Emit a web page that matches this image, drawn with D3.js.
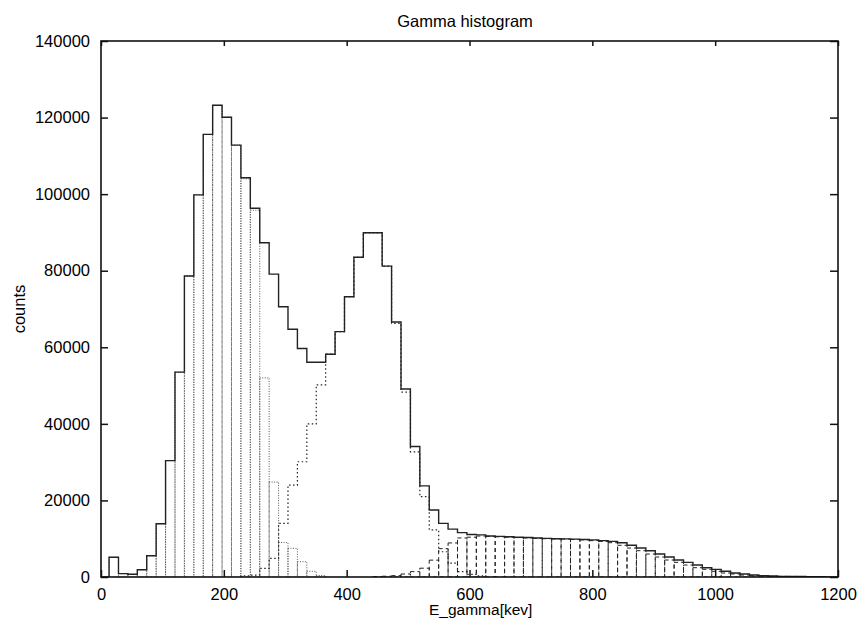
<!DOCTYPE html>
<html>
<head>
  <meta charset="utf-8">
  <title>Gamma histogram</title>
  <style>
    body { margin: 0; background: #fff; }
    text { font-family: "Liberation Sans", Arial, sans-serif; fill: #000; }
  </style>
</head>
<body>
  <div id='chart'></div>
  <script src="https://d3js.org/d3.v7.min.js"></script>
  <script>

    // bins: lower edge of bin k = binStart + k * binWidth (keV)
    let binStart = -2.2;
    let binWidth = 15.333;

    // total counts per bin (solid line)
    let totalCounts = [
      0, 5150, 870, 700, 1900, 5570, 13900, 30400, 53500, 78600,
      99800, 115600, 123200, 120100, 112800, 104300, 96300, 87300, 79100, 70600,
      64700, 59700, 56100, 56100, 58200, 64100, 73200, 83500, 89900, 89900,
      81200, 66600, 49100, 34100, 23800, 17500, 14000, 12500, 11600, 11100,
      11000, 10700, 10600, 10500, 10400, 10300, 10200, 10100, 10000, 9950,
      9900, 9800, 9700, 9500, 9300, 8960, 8280, 7570, 6870, 6000,
      5220, 4440, 3830, 3130, 2430, 2000, 1490, 1040, 780, 520,
      350, 260, 170, 170, 150, 100, 60, 30, 0
    ];

    // first component (fine dots, bars), bins 0..23
    let compA = [
      0, 5150, 870, 700, 1900, 5570, 13900, 30400, 53500, 78600,
      99800, 115600, 123200, 120100, 112800, 104000, 95800, 52000, 24800, 9000,
      7500, 4000, 1500, 400
    ];

    // second component (coarse dots, outline), starting at bin 15
    let compBFirst = 15;
    let compB = [
      300, 500, 2270, 4880, 14000, 24000, 30100, 40000, 50200, 58200,
      64100, 73200, 83500, 89900, 89900, 81200, 66250, 48300, 32700, 21000,
      12300, 6600, 3600, 1400, 700, 300
    ];

    // third component (dashed, bars), starting at bin 29
    let compCFirst = 29;
    let compC = [
      100, 200, 350, 780, 1400, 2300, 4400, 7400, 8900, 10200,
      10400, 10700, 10600, 10500, 10400, 10300, 10200, 10100, 10000, 9950,
      9900, 9800, 9700, 9500, 9300, 8960, 8280, 7570, 6870, 6000,
      5220, 4440, 3830, 3130, 2430, 2000, 1490, 1040, 780, 520,
      350, 260, 170, 170, 150, 100, 60, 30
    ];

    let xTicks = [0, 200, 400, 600, 800, 1000, 1200];
    let yTicks = [0, 20000, 40000, 60000, 80000, 100000, 120000, 140000];

    let svgWidth = 857;
    let svgHeight = 619;
    let margin = {top: 41, right: 19, bottom: 42, left: 101};

    let svg = d3.select('#chart')
      .append('svg')
      .attr('width', svgWidth)
      .attr('height', svgHeight);

    let x = d3.scaleLinear()
      .domain([0, 1200])
      .range([margin.left, svgWidth - margin.right]);

    let y = d3.scaleLinear()
      .domain([0, 140000])
      .range([svgHeight - margin.bottom, margin.top]);

    svg.append('clipPath')
      .attr('id', 'plotclip')
      .append('rect')
      .attr('x', x(0))
      .attr('y', y(140000))
      .attr('width', x(1200) - x(0))
      .attr('height', y(0) - y(140000));

    function toBins(values, first) {
      return values.map((v, i) => {
        let k = first + i;
        return {lo: binStart + k * binWidth, hi: binStart + (k + 1) * binWidth, v: v};
      });
    }

    function stepPoints(bins) {
      let pts = [[bins[0].lo, 0]];
      bins.forEach(d => {
        pts.push([d.lo, d.v]);
        pts.push([d.hi, d.v]);
      });
      pts.push([bins[bins.length - 1].hi, 0]);
      return pts;
    }

    let line = d3.line().x(d => x(d[0])).y(d => y(d[1]));

    let plot = svg.append('g').attr('clip-path', 'url(#plotclip)');

    function drawBars(bins, dash, color, w) {
      plot.append('g')
        .selectAll('rect')
        .data(bins.filter(d => d.v > 0))
        .enter()
        .append('rect')
        .attr('x', d => x(d.lo))
        .attr('y', d => y(d.v))
        .attr('width', d => x(d.hi) - x(d.lo))
        .attr('height', d => y(0) - y(d.v))
        .attr('fill', 'none')
        .attr('stroke', color)
        .attr('stroke-width', w)
        .attr('stroke-dasharray', dash);
    }

    drawBars(toBins(compA, 0), '1,1.5', '#555', 1);
    drawBars(toBins(compC, compCFirst), '4,3', '#222', 1);

    plot.append('path')
      .datum(stepPoints(toBins(compB, compBFirst)))
      .attr('fill', 'none')
      .attr('stroke', '#222')
      .attr('stroke-width', 1.2)
      .attr('stroke-dasharray', '1.5,2.5')
      .attr('d', line);

    // total as a step outline
    plot.append('path')
      .datum(stepPoints(toBins(totalCounts, 0)))
      .attr('fill', 'none')
      .attr('stroke', '#222')
      .attr('stroke-width', 1.4)
      .attr('d', line);

    // axes, ticks pointing inward
    let fontSize = '16.5px';

    svg.append('g')
      .attr('transform', 'translate(0,' + y(0) + ')')
      .call(d3.axisBottom(x).tickValues(xTicks).tickSize(-7).tickSizeOuter(0).tickPadding(11).tickFormat(d3.format('d')));

    svg.append('g')
      .attr('transform', 'translate(0,' + y(140000) + ')')
      .call(d3.axisTop(x).tickValues(xTicks).tickSize(-5).tickSizeOuter(0).tickFormat(''));

    svg.append('g')
      .attr('transform', 'translate(' + x(0) + ',0)')
      .call(d3.axisLeft(y).tickValues(yTicks).tickSize(-7).tickSizeOuter(0).tickPadding(11).tickFormat(d3.format('d')));

    svg.append('g')
      .attr('transform', 'translate(' + x(1200) + ',0)')
      .call(d3.axisRight(y).tickValues(yTicks).tickSize(-8).tickSizeOuter(0).tickFormat(''));

    svg.selectAll('.domain').remove();
    svg.selectAll('.tick line').attr('stroke', '#111').attr('stroke-width', 1.5);
    svg.selectAll('.tick text')
      .style('font-family', '"Liberation Sans", Arial, sans-serif')
      .style('font-size', fontSize)
      .attr('fill', '#000');

    svg.append('rect')
      .attr('x', x(0))
      .attr('y', y(140000))
      .attr('width', x(1200) - x(0))
      .attr('height', y(0) - y(140000))
      .attr('fill', 'none')
      .attr('stroke', '#111')
      .attr('stroke-width', 1.6);

    svg.append('text')
      .attr('x', 465)
      .attr('y', 27)
      .attr('text-anchor', 'middle')
      .style('font-size', fontSize)
      .text('Gamma histogram');

    svg.append('text')
      .attr('transform', 'translate(25,309) rotate(-90)')
      .attr('text-anchor', 'middle')
      .style('font-size', fontSize)
      .text('counts');

    svg.append('text')
      .attr('x', 429)
      .attr('y', 615)
      .style('font-size', '15.5px')
      .text('E_gamma[kev]');

  </script>
</body>
</html>
